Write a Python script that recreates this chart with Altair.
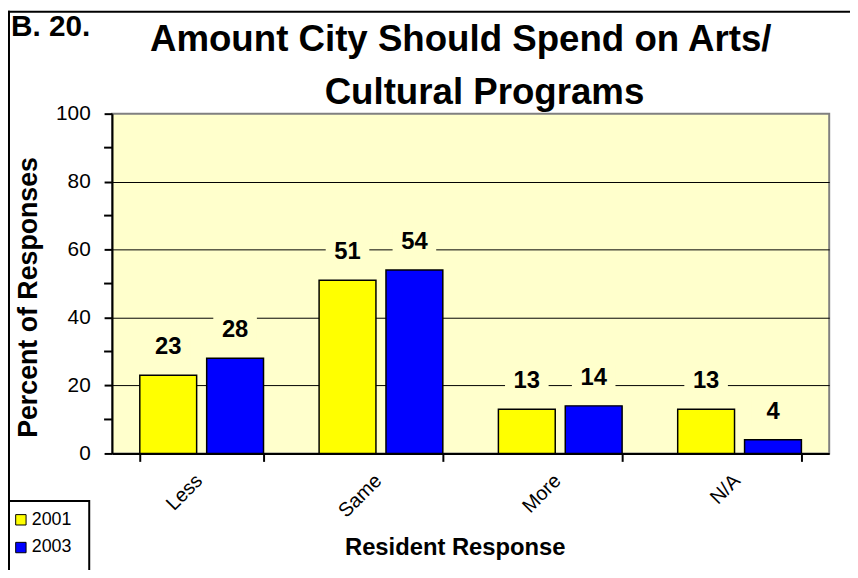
import altair as alt
import pandas as pd

categories = ["Less", "Same", "More", "N/A"]
years = ["2001", "2003"]
values_2001 = [23, 51, 13, 13]
values_2003 = [28, 54, 14, 4]
minor_ticks = [10, 30, 50, 70, 90]
title_lines = ["Amount City Should Spend on Arts/", "Cultural Programs"]

rows = []
for c, v1, v3 in zip(categories, values_2001, values_2003):
    rows.append({"response": c, "year": "2001", "value": v1})
    rows.append({"response": c, "year": "2003", "value": v3})
df = pd.DataFrame(rows)

FONT = "Liberation Sans"
BG = "#FFFFCC"
W, H = 724, 343

x_enc = alt.X(
    "response:N",
    sort=categories,
    scale=alt.Scale(paddingInner=0.31, paddingOuter=0.155),
    axis=alt.Axis(
        title="Resident Response",
        titleFont=FONT, titleFontSize=24, titleFontWeight="bold", titleColor="black",
        titleX=346, titleY=102, titleAnchor="middle", titleAlign="center", titleBaseline="alphabetic",
        labelAngle=-45, labelAlign="right", labelBaseline="top",
        labelFont=FONT, labelFontSize=20, labelColor="black", labelPadding=9, labelOffset=-10,
        tickBand="extent", tickSize=8, tickWidth=2, tickColor="black",
        domainColor="black", domainWidth=2, grid=False,
    ),
)
xoff = alt.XOffset("year:N", sort=years, scale=alt.Scale(paddingInner=0.15, paddingOuter=0))
y_enc = alt.Y(
    "value:Q",
    scale=alt.Scale(domain=[0, 100], nice=False),
    axis=alt.Axis(
        title="Percent of Responses",
        titleFont=FONT, titleFontSize=27, titleFontWeight="bold", titleColor="black",
        titleX=-84, titleY=185, titleAngle=-90, titleAlign="center", titleBaseline="middle",
        values=list(range(0, 101, 20)),
        labelFont=FONT, labelFontSize=21, labelColor="black", labelPadding=14,
        tickSize=8, tickWidth=2, tickColor="black",
        domainColor="black", domainWidth=2,
        grid=True, gridColor="black", gridWidth=1,
        gridOpacity={"condition": {"test": "datum.value > 0 && datum.value < 100", "value": 1}, "value": 0},
    ),
)

bars = alt.Chart(df).mark_bar(stroke="black", strokeWidth=1.5).encode(
    x=x_enc,
    xOffset=xoff,
    y=y_enc,
    color=alt.Color(
        "year:N",
        sort=years,
        scale=alt.Scale(domain=years, range=["#FFFF00", "#0000FF"]),
        legend=alt.Legend(
            title=None, orient="none", legendX=-101, legendY=401,
            symbolType="square", symbolSize=110, symbolStrokeColor="black", symbolStrokeWidth=1,
            symbolOpacity=1, labelFont=FONT, labelFontSize=18, labelColor="black",
            rowPadding=10, padding=0, labelOffset=2,
        ),
    ),
)

minor = alt.Chart(pd.DataFrame({"v": minor_ticks})).mark_rule(color="black", strokeWidth=2).encode(
    y=alt.Y("v:Q"), x=alt.value(-8), x2=alt.value(0)
)

label_bg = alt.Chart(df).mark_point(
    shape="M-1,-0.62L1,-0.62L1,0.62L-1,0.62Z",
    filled=True, fill=BG, opacity=1, size=1936, strokeWidth=0, yOffset=-28,
).encode(x=alt.X("response:N", sort=categories), xOffset=alt.XOffset("year:N", sort=years), y="value:Q")

labels = alt.Chart(df).mark_text(
    font=FONT, fontSize=24, fontWeight="bold", color="black", dy=-28, baseline="middle", align="center",
).encode(x=alt.X("response:N", sort=categories), xOffset=alt.XOffset("year:N", sort=years), y="value:Q", text="value:Q")

one = pd.DataFrame({"a": [0]})
legend_box = alt.Chart(one).mark_rect(fill="white", stroke="black", strokeWidth=2).encode(
    x=alt.value(-104), x2=alt.value(-23), y=alt.value(391), y2=alt.value(H + 130)
)
left_border = alt.Chart(one).mark_rule(color="black", strokeWidth=2).encode(
    x=alt.value(-104), y=alt.value(-104), y2=alt.value(H + 115)
)
top_border = alt.Chart(one).mark_rule(color="black", strokeWidth=2).encode(
    x=alt.value(-105), x2=alt.value(W + 21), y=alt.value(-103)
)
tag = alt.Chart(one).mark_text(
    text="B. 20.", font=FONT, fontSize=30, fontWeight="bold", color="black", align="left", baseline="alphabetic"
).encode(x=alt.value(-102), y=alt.value(-78))

title_df = pd.DataFrame({"line": title_lines, "cx": [352, 376], "by": [-63, -10]})
title = alt.Chart(title_df).mark_text(
    font=FONT, fontSize=37, fontWeight="bold", color="black", align="center", baseline="alphabetic"
).encode(
    x=alt.X("cx:Q", scale=None), y=alt.Y("by:Q", scale=None), text="line:N"
)

chart = alt.layer(bars, minor, label_bg, labels, legend_box, left_border, top_border, tag, title).properties(
    width=W, height=H,
    autosize=alt.AutoSizeParams(type="none"),
    padding={"left": 105, "top": 104, "right": 21, "bottom": 115},
).configure_view(fill=BG, stroke="#808080", strokeWidth=2)

chart.save("out.html", embed_options={"renderer": "svg", "actions": False})
